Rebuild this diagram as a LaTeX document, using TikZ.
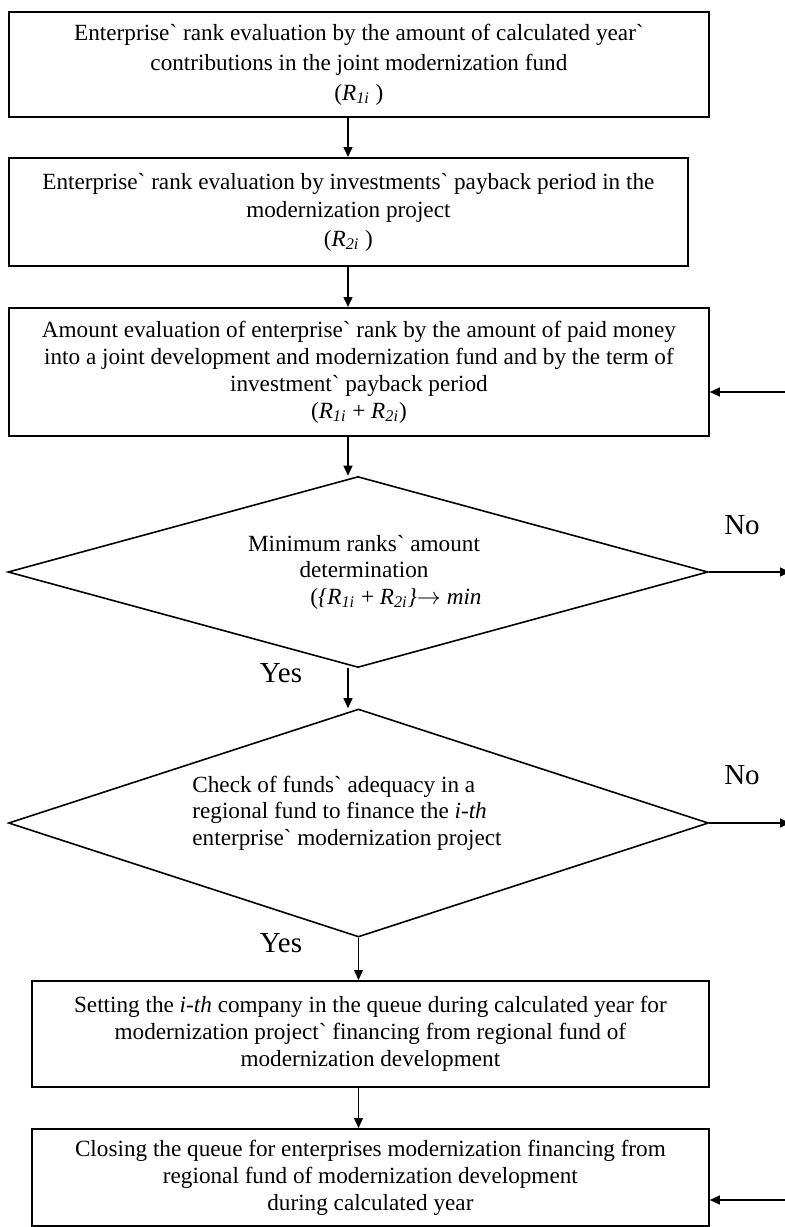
\documentclass[tikz,border=0pt]{standalone}
\usepackage{fontspec}
\setmainfont{Liberation Serif}[Ligatures=TeXOff]
\usetikzlibrary{shapes.geometric,arrows.meta}
\newcommand{\Rsub}[1]{\textit{R}\textsubscript{\textit{#1}}}
\begin{document}
\begin{tikzpicture}[x=0.5pt,y=-0.5pt,
 box/.style={draw,line width=0.9pt,anchor=north west,inner sep=0pt,align=center,font=\fontsize{11.6}{13.5}\selectfont},
 dia/.style={draw,diamond,line width=0.8pt,inner sep=0pt,minimum width=350pt},
 arr/.style={line width=0.7pt,-{Triangle[length=5pt,width=4.5pt]}},
 lbl/.style={font=\fontsize{14.5}{16}\selectfont,inner sep=0pt},
 txt/.style={inner sep=0pt,font=\fontsize{11.6}{13.25}\selectfont}]
\useasboundingbox (0,0) rectangle (784,1227);
\node[box,minimum width=350pt,minimum height=52.5pt,font=\fontsize{11.6}{15}\selectfont] (b1) at (8,11)
 {Enterprise` rank evaluation by the amount of calculated year`\\contributions in the joint modernization fund\\(\Rsub{1i} )};
\node[box,minimum width=339.5pt,minimum height=54pt,font=\fontsize{11.6}{14.25}\selectfont] (b2) at (8,157)
 {Enterprise` rank evaluation by investments` payback period in the\\modernization project\\(\Rsub{2i} )};
\node[box,minimum width=350pt,minimum height=64pt] (b3) at (8,307)
 {Amount evaluation of enterprise` rank by the amount of paid money\\into a joint development and modernization fund and by the term of\\investment` payback period\\(\Rsub{1i} + \Rsub{2i})};
\node[dia,minimum height=95.5pt] (d1) at (358,572) {};
\node[txt,align=center] (d1t) at (364,572)
 {Minimum ranks` amount\\determination\\\hspace*{32pt}(\textit{\{R}\textsubscript{\textit{1i}} + \textit{R}\textsubscript{\textit{2i}}\textit{\}}$\rightarrow$ \textit{min}};
\node[dia,minimum height=114pt] (d2) at (358.5,823) {};
\node[txt,align=left,anchor=west] (d2t) at (192,813)
 {Check of funds` adequacy in a\\regional fund to finance the \textit{i-th}\\enterprise` modernization project};
\node[box,minimum width=338.5pt,minimum height=53pt] (b4) at (31,980)
 {Setting the \textit{i-th} company in the queue during calculated year for\\modernization project` financing from regional fund of\\modernization development};
\node[box,minimum width=338.5pt,minimum height=48.5pt] (b5) at (31,1128)
 {Closing the queue for enterprises modernization financing from\\regional fund of modernization development\\during calculated year};
\node[lbl] (no1) at (742,525) {No};
\node[lbl] (no2) at (742,775) {No};
\node[lbl] (yes1) at (281,673) {Yes};
\node[lbl] (yes2) at (281,943) {Yes};
\coordinate (cA) at (348,0);
\coordinate (r3) at (790,392);
\coordinate (r5) at (790,1200);
\coordinate (rE) at (790,0);
\draw[arr] (b1.south -| cA) -- (b2.north -| cA);
\draw[arr] (b2.south -| cA) -- (b3.north -| cA);
\draw[arr] (b3.south -| cA) -- (d1.north -| cA);
\draw[arr] (d1.south -| cA) -- (d2.north -| cA);
\draw[arr] (d2.south) -- (b4.north -| d2.south);
\draw[arr] (b4.south -| d2.south) -- (b5.north -| d2.south);
\draw[arr] (r3) -- (r3 -| b3.east);
\draw[arr] (r5) -- (r5 -| b5.east);
\draw[arr] (d1.east) -- (d1.east -| rE);
\draw[arr] (d2.east) -- (d2.east -| rE);
\end{tikzpicture}
\end{document}
